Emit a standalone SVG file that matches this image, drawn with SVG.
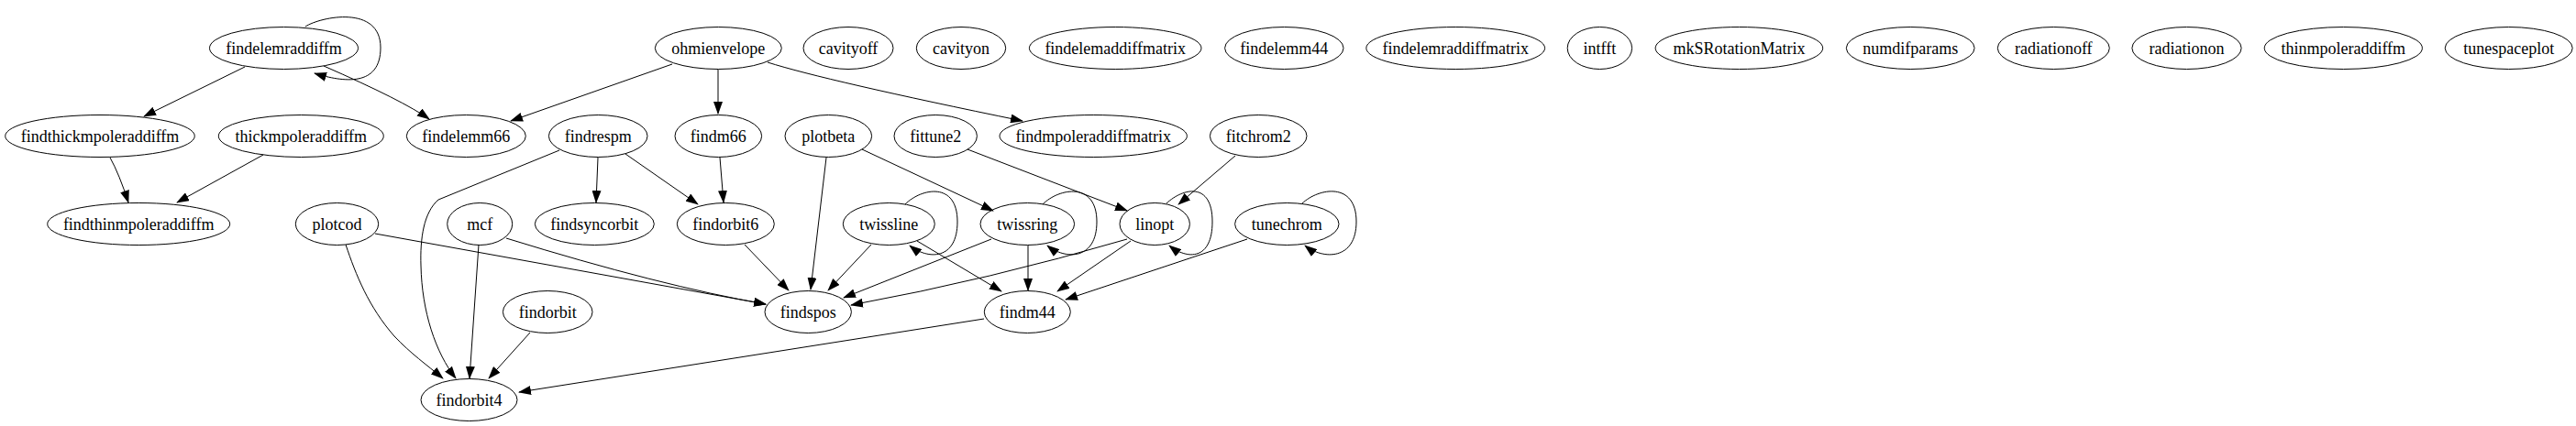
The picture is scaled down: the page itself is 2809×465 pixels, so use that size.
<svg xmlns="http://www.w3.org/2000/svg" width="2809" height="465" viewBox="0 0 2809 465">
<style>
.n ellipse{fill:none;stroke:#000;stroke-width:1}
.n text{font-family:"Liberation Serif","Times New Roman",serif;font-size:18px;text-anchor:middle;fill:#000}
.e path{fill:none;stroke:#000;stroke-width:1}
</style>
<defs>
<marker id="ah" viewBox="0 0 14 10" refX="13" refY="5" markerWidth="14" markerHeight="10" markerUnits="userSpaceOnUse" orient="auto"><path d="M0,0 L14,5 L0,10 z" fill="#000"/></marker>
</defs>
<rect width="2809" height="465" fill="#fff"/>
<g class="e" id="edges">
<path marker-end="url(#ah)" d="M333,29 C350,18 415,5 415,52 C415,95 375,90 343,80"/>
<path marker-end="url(#ah)" d="M267,73 L157,127"/>
<path marker-end="url(#ah)" d="M353,72 Q440,110 468,130"/>
<path marker-end="url(#ah)" d="M733,70 L557,132"/>
<path marker-end="url(#ah)" d="M783,76 L783,124"/>
<path marker-end="url(#ah)" d="M837,68 Q900,88 1115,132"/>
<path marker-end="url(#ah)" d="M120,172 Q130,190 140,221"/>
<path marker-end="url(#ah)" d="M287,169 L193,221"/>
<path marker-end="url(#ah)" d="M652,172 L650,221"/>
<path marker-end="url(#ah)" d="M682,168 L761,223"/>
<path marker-end="url(#ah)" d="M610,164 L478,218 C462,232 458,260 459,290 C460,340 475,385 497,413"/>
<path marker-end="url(#ah)" d="M785,172 L789,221"/>
<path marker-end="url(#ah)" d="M901,172 L884,316"/>
<path marker-end="url(#ah)" d="M940,163 L1083,230"/>
<path marker-end="url(#ah)" d="M1055,163 L1229,230"/>
<path marker-end="url(#ah)" d="M1347,170 L1285,223"/>
<path marker-end="url(#ah)" d="M409,255 L835,332"/>
<path marker-end="url(#ah)" d="M377,267 C388,300 402,335 430,367 C448,386 465,398 483,413"/>
<path marker-end="url(#ah)" d="M552,260 Q720,312 835,332"/>
<path marker-end="url(#ah)" d="M522,267 L512,413"/>
<path marker-end="url(#ah)" d="M812,267 L860,317"/>
<path marker-end="url(#ah)" d="M987,223 C1005,205 1044,198 1044,242 C1044,284 1012,284 992,268"/>
<path marker-end="url(#ah)" d="M950,267 L903,317"/>
<path marker-end="url(#ah)" d="M1000,263 L1092,318"/>
<path marker-end="url(#ah)" d="M1137,223 C1155,205 1196,198 1196,242 C1196,284 1162,284 1142,268"/>
<path marker-end="url(#ah)" d="M1081,261 L920,325"/>
<path marker-end="url(#ah)" d="M1121,268 L1121,317"/>
<path marker-end="url(#ah)" d="M1272,222 C1290,205 1322,198 1322,242 C1322,284 1295,284 1275,268"/>
<path marker-end="url(#ah)" d="M1229,261 Q1080,305 928,333"/>
<path marker-end="url(#ah)" d="M1233,263 L1153,318"/>
<path marker-end="url(#ah)" d="M1420,222 C1438,205 1479,198 1479,242 C1479,284 1443,284 1423,268"/>
<path marker-end="url(#ah)" d="M1360,261 L1162,327"/>
<path marker-end="url(#ah)" d="M578,363 L533,413"/>
<path marker-end="url(#ah)" d="M1073,348 L566,428"/>
</g>
<g class="n" id="findelemraddiffm"><ellipse cx="309.5" cy="52.5" rx="81" ry="23"/><text x="309.5" y="58.5">findelemraddiffm</text></g>
<g class="n" id="ohmienvelope"><ellipse cx="783.3" cy="52.5" rx="69" ry="23"/><text x="783.3" y="58.5">ohmienvelope</text></g>
<g class="n" id="cavityoff"><ellipse cx="925" cy="52.5" rx="49" ry="23"/><text x="925" y="58.5">cavityoff</text></g>
<g class="n" id="cavityon"><ellipse cx="1048" cy="52.5" rx="48.7" ry="23"/><text x="1048" y="58.5">cavityon</text></g>
<g class="n" id="findelemaddiffmatrix"><ellipse cx="1216.2" cy="52.5" rx="93.8" ry="23"/><text x="1216.2" y="58.5">findelemaddiffmatrix</text></g>
<g class="n" id="findelemm44"><ellipse cx="1400.3" cy="52.5" rx="64.7" ry="23"/><text x="1400.3" y="58.5">findelemm44</text></g>
<g class="n" id="findelemraddiffmatrix"><ellipse cx="1587.2" cy="52.5" rx="97.4" ry="23"/><text x="1587.2" y="58.5">findelemraddiffmatrix</text></g>
<g class="n" id="intfft"><ellipse cx="1744.4" cy="52.5" rx="35.2" ry="23"/><text x="1744.4" y="58.5">intfft</text></g>
<g class="n" id="mkSRotationMatrix"><ellipse cx="1896.4" cy="52.5" rx="91.3" ry="23"/><text x="1896.4" y="58.5">mkSRotationMatrix</text></g>
<g class="n" id="numdifparams"><ellipse cx="2083.2" cy="52.5" rx="69.9" ry="23"/><text x="2083.2" y="58.5">numdifparams</text></g>
<g class="n" id="radiationoff"><ellipse cx="2239.3" cy="52.5" rx="61" ry="23"/><text x="2239.3" y="58.5">radiationoff</text></g>
<g class="n" id="radiationon"><ellipse cx="2384.5" cy="52.5" rx="59.6" ry="23"/><text x="2384.5" y="58.5">radiationon</text></g>
<g class="n" id="thinmpoleraddiffm"><ellipse cx="2555.3" cy="52.5" rx="86.1" ry="23"/><text x="2555.3" y="58.5">thinmpoleraddiffm</text></g>
<g class="n" id="tunespaceplot"><ellipse cx="2735.7" cy="52.5" rx="69.5" ry="23"/><text x="2735.7" y="58.5">tunespaceplot</text></g>
<g class="n" id="findthickmpoleraddiffm"><ellipse cx="109" cy="148.5" rx="103.3" ry="23"/><text x="109" y="154.5">findthickmpoleraddiffm</text></g>
<g class="n" id="thickmpoleraddiffm"><ellipse cx="328.3" cy="148.5" rx="90" ry="23"/><text x="328.3" y="154.5">thickmpoleraddiffm</text></g>
<g class="n" id="findelemm66"><ellipse cx="508.3" cy="148.5" rx="65" ry="23"/><text x="508.3" y="154.5">findelemm66</text></g>
<g class="n" id="findrespm"><ellipse cx="652.2" cy="148.5" rx="53.8" ry="23"/><text x="652.2" y="154.5">findrespm</text></g>
<g class="n" id="findm66"><ellipse cx="783.3" cy="148.5" rx="47.3" ry="23"/><text x="783.3" y="154.5">findm66</text></g>
<g class="n" id="plotbeta"><ellipse cx="903.3" cy="148.5" rx="47.3" ry="23"/><text x="903.3" y="154.5">plotbeta</text></g>
<g class="n" id="fittune2"><ellipse cx="1020.2" cy="148.5" rx="45.2" ry="23"/><text x="1020.2" y="154.5">fittune2</text></g>
<g class="n" id="findmpoleraddiffmatrix"><ellipse cx="1192.2" cy="148.5" rx="102.2" ry="23"/><text x="1192.2" y="154.5">findmpoleraddiffmatrix</text></g>
<g class="n" id="fitchrom2"><ellipse cx="1372.2" cy="148.5" rx="52.8" ry="23"/><text x="1372.2" y="154.5">fitchrom2</text></g>
<g class="n" id="findthinmpoleraddiffm"><ellipse cx="151.2" cy="244.5" rx="99.5" ry="23"/><text x="151.2" y="250.5">findthinmpoleraddiffm</text></g>
<g class="n" id="plotcod"><ellipse cx="367.5" cy="244.5" rx="45.2" ry="23"/><text x="367.5" y="250.5">plotcod</text></g>
<g class="n" id="mcf"><ellipse cx="523.2" cy="244.5" rx="35.5" ry="23"/><text x="523.2" y="250.5">mcf</text></g>
<g class="n" id="findsyncorbit"><ellipse cx="648.3" cy="244.5" rx="65" ry="23"/><text x="648.3" y="250.5">findsyncorbit</text></g>
<g class="n" id="findorbit6"><ellipse cx="791.3" cy="244.5" rx="53" ry="23"/><text x="791.3" y="250.5">findorbit6</text></g>
<g class="n" id="twissline"><ellipse cx="969.3" cy="244.5" rx="50" ry="23"/><text x="969.3" y="250.5">twissline</text></g>
<g class="n" id="twissring"><ellipse cx="1120.3" cy="244.5" rx="51.3" ry="23"/><text x="1120.3" y="250.5">twissring</text></g>
<g class="n" id="linopt"><ellipse cx="1259.2" cy="244.5" rx="38.2" ry="23"/><text x="1259.2" y="250.5">linopt</text></g>
<g class="n" id="tunechrom"><ellipse cx="1403.3" cy="244.5" rx="56.7" ry="23"/><text x="1403.3" y="250.5">tunechrom</text></g>
<g class="n" id="findorbit"><ellipse cx="597.2" cy="340.5" rx="48.8" ry="23"/><text x="597.2" y="346.5">findorbit</text></g>
<g class="n" id="findspos"><ellipse cx="881.2" cy="340.5" rx="47.2" ry="23"/><text x="881.2" y="346.5">findspos</text></g>
<g class="n" id="findm44"><ellipse cx="1120.3" cy="340.5" rx="47" ry="23"/><text x="1120.3" y="346.5">findm44</text></g>
<g class="n" id="findorbit4"><ellipse cx="511.5" cy="436.5" rx="52.5" ry="23"/><text x="511.5" y="442.5">findorbit4</text></g>
</svg>
